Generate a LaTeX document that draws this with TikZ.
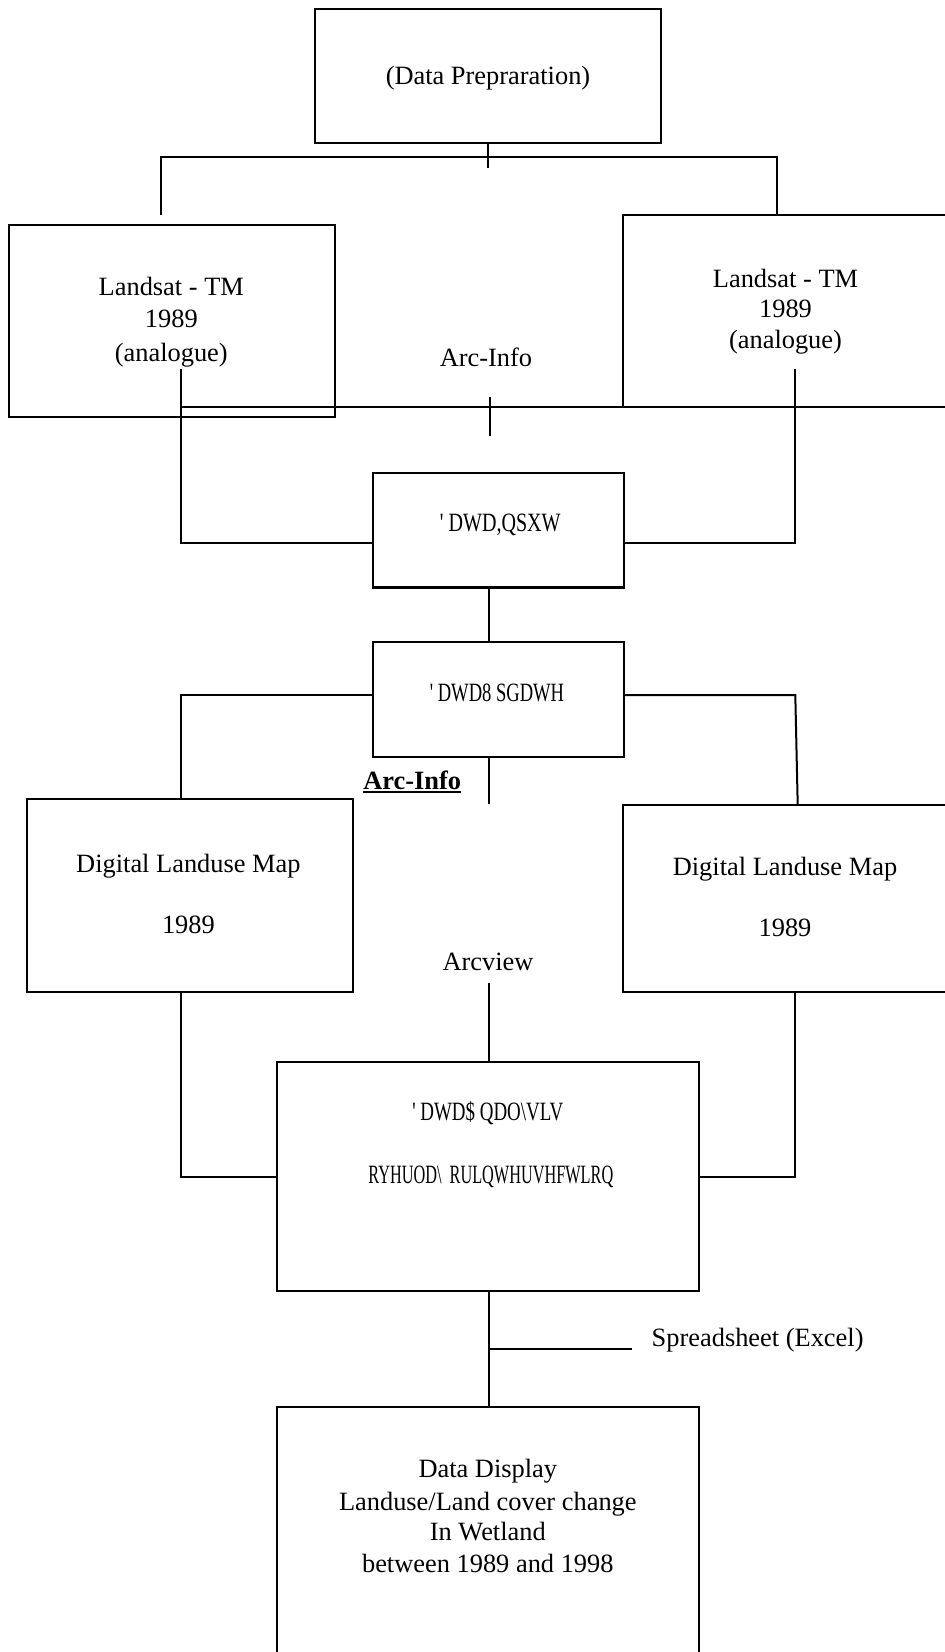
\documentclass[tikz,border=0pt]{standalone}
\usepackage{fontspec}
\setmainfont{Liberation Serif}
\usepackage{graphicx}
\newcommand{\squeezeto}[2]{\resizebox{#1}{\height}{#2}}
\begin{document}
\begin{tikzpicture}[x=1pt,y=-1pt,
  box/.style={draw, line width=2.2pt, rectangle, inner sep=0pt, outer sep=0pt},
  wire/.style={line width=2pt},
  lbl/.style={inner sep=0pt, outer sep=0pt, anchor=base, font=\fontsize{26.4}{31}\selectfont},
]
\useasboundingbox (0,0) rectangle (945,1652);
\clip (0,0) rectangle (945,1652);

% ---------- boxes ----------
\node[box, minimum width=346pt, minimum height=134pt] (dp) at (488,76.3) {};
\node[box, minimum width=326.3pt, minimum height=192pt] (lsL) at (172.2,321.3) {};
\node[box, minimum width=326.7pt, minimum height=191.7pt] (lsR) at (786.7,310.9) {};
\node[box, minimum width=250.7pt, minimum height=114.2pt] (di) at (498.3,530.4) {};
\node[box, minimum width=250.7pt, minimum height=115pt] (du) at (498.3,699.2) {};
\node[box, minimum width=326pt, minimum height=192.7pt] (dlL) at (190,895.3) {};
\node[box, minimum width=327.3pt, minimum height=186.7pt] (dlR) at (786.3,898.3) {};
\node[box, minimum width=422pt, minimum height=229.6pt] (da) at (488.3,1176.5) {};
\node[box, minimum width=421.7pt, minimum height=292.7pt] (dd) at (488.2,1553.6) {};

% ---------- helper coordinates ----------
\coordinate (cx) at (489,0);
\coordinate (xL) at (181,0);
\coordinate (xR) at (795,0);
\coordinate (y543) at (0,543.3);
\coordinate (y695) at (0,695);
\coordinate (dpStem) at (488,167.7);
\coordinate (splitL) at (161.3,157.3);
\coordinate (splitR) at (777.3,157.3);
\coordinate (lsLtick) at (161.3,215);
\coordinate (aL) at (181,369);
\coordinate (aR) at (795,369);
\coordinate (hL) at (181,407);
\coordinate (hR) at (950,407);
\coordinate (midTop) at (489.5,396.7);
\coordinate (midBot) at (489.5,436);
\coordinate (duRc) at (795.3,695);
\coordinate (dlRtop) at (797.7,0);
\coordinate (duStem) at (489,804);
\coordinate (avTop) at (489,983.3);
\coordinate (ssA) at (489,1349.3);
\coordinate (ssB) at (631.7,1349.3);

% ---------- connectors ----------
\draw[wire] (dp.south) -- (dpStem);
\draw[wire] (lsLtick) -- (splitL) -- (splitR) -- (lsR.north -| splitR);
\draw[wire] (aL) |- (di.west |- y543);
\draw[wire] (aR) |- (di.east |- y543);
\draw[wire] (hL) -- (hR);
\draw[wire] (midTop) -- (midBot);
\draw[wire] (di.south -| cx) -- (du.north -| cx);
\draw[wire] (du.west |- y695) -| (dlL.north -| xL);
\draw[wire] (du.east |- duRc) -- (duRc) -- (dlR.north -| dlRtop);
\draw[wire] (du.south -| cx) -- (duStem);
\draw[wire] (dlL.south -| xL) |- (da.west);
\draw[wire] (dlR.south -| xR) |- (da.east);
\draw[wire] (avTop) -- (da.north -| cx);
\draw[wire] (da.south -| cx) -- (dd.north -| cx);
\draw[wire] (ssA) -- (ssB);

% ---------- texts ----------
\node[lbl] (dpT) at (488,84) {(Data Prepraration)};

\node[lbl] (lsL1) at (171.3,295.7) {Landsat - TM};
\node[lbl] (lsL2) at (171.3,327.7) {1989};
\node[lbl] (lsL3) at (171.3,361) {(analogue)};

\node[lbl] (lsR1) at (785.5,287.3) {Landsat - TM};
\node[lbl] (lsR2) at (785.5,317.3) {1989};
\node[lbl] (lsR3) at (785.5,348.3) {(analogue)};

\node[lbl] (ai1) at (486,366.7) {Arc-Info};

\node[lbl] (diT) at (500.3,531.7) {\squeezeto{120.7pt}{\textquotesingle\ DWD,QSXW}};
\node[lbl] (duT) at (497,701.7) {\squeezeto{134.3pt}{\textquotesingle\ DWD8 SGDWH}};

\node[lbl] (ai2) at (412.2,789.3) {\textbf{Arc-Info}};
\draw[line width=1.8pt] ([yshift=-2.6pt]ai2.base west) -- ([yshift=-2.6pt]ai2.base east);

\node[lbl] (dlL1) at (188.4,872.7) {Digital Landuse Map};
\node[lbl] (dlL2) at (188.4,933.3) {1989};
\node[lbl] (dlR1) at (785,875) {Digital Landuse Map};
\node[lbl] (dlR2) at (785,936.7) {1989};

\node[lbl] (av) at (488,970) {Arcview};

\node[lbl] (da1) at (487.8,1120) {\squeezeto{151pt}{\textquotesingle\ DWD\$ QDO\textbackslash VLV}};
\node[lbl] (da2) at (490.8,1183.3) {\squeezeto{245pt}{RYHUOD\textbackslash\ \ RULQWHUVHFWLRQ}};

\node[lbl, anchor=base west] (ss) at (651.7,1346) {Spreadsheet (Excel)};

\node[lbl] (dd1) at (487.8,1477.7) {Data Display};
\node[lbl] (dd2) at (487.8,1510) {Landuse/Land cover change};
\node[lbl] (dd3) at (487.8,1540) {In Wetland};
\node[lbl] (dd4) at (487.8,1572.7) {between 1989 and 1998};
\end{tikzpicture}
\end{document}
